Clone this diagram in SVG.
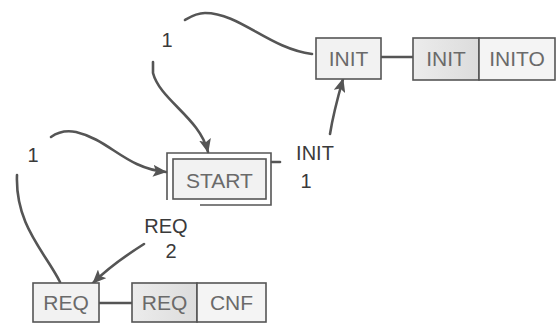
<svg xmlns="http://www.w3.org/2000/svg" width="557" height="326" viewBox="0 0 557 326">
  <style>
    .box { fill: #f2f2f2; stroke: #555; stroke-width: 1.6; }
    .evt { fill: url(#evtFill); stroke: #555; stroke-width: 1.6; }
    .alg { fill: #f4f4f4; stroke: #555; stroke-width: 1.6; }
    .name { font-family: "Liberation Sans", Arial, sans-serif; font-size: 21px; fill: #6a6a6a; text-anchor: middle; }
    .cond { font-family: "Liberation Sans", Arial, sans-serif; font-size: 20px; fill: #3a3a3a; text-anchor: middle; }
    .wire { fill: none; stroke: #555; stroke-width: 2.6; stroke-linecap: round; }
    .arc { fill: none; stroke: #555; stroke-width: 2.6; stroke-linecap: round; }
    .arrow { marker-end: url(#head); }
  </style>
  <defs>
    <linearGradient id="evtFill" x1="0" y1="0" x2="1" y2="0">
      <stop offset="0" stop-color="#ececec"/>
      <stop offset="1" stop-color="#dcdcdc"/>
    </linearGradient>
    <marker id="head" markerUnits="userSpaceOnUse" markerWidth="14" markerHeight="12" refX="13" refY="6" orient="auto">
      <path d="M0,0 L14,6 L0,12 L3,6 z" fill="#555"/>
    </marker>
  </defs>
  <rect width="557" height="326" fill="#fff"/>

  <!-- transitions -->
  <g id="connectors">
    <!-- INIT -> START, condition 1 -->
    <path class="arc" d="M312,54 C268,48 240,13 205,13 C196,13 190,17 185,20"/>
    <path class="arc arrow" d="M153,62 L153,73 C160,100 200,118 208,152"/>
    <!-- REQ -> START, condition 1 -->
    <path class="arc" d="M60,282 C45,252 15,225 17,175"/>
    <path class="arc arrow" d="M51,137 C58,132 66,130 76,132 C110,140 125,168 166,172"/>
    <!-- START -> INIT, event INIT -->
    <path class="arc" d="M272,162 L280,162"/>
    <path class="arc arrow" d="M330,134 C333,115 337,100 343,79"/>
    <!-- START -> REQ, event REQ -->
    <path class="arc arrow" d="M144,244 C125,256 108,268 93,283"/>
    <!-- state to action wires -->
    <path class="wire" d="M381,57 L413,57"/>
    <path class="wire" d="M99,303 L132,303"/>
  </g>

  <!-- transition labels -->
  <g id="labels">
    <text class="cond" x="167" y="47">1</text>
    <text class="cond" x="33" y="162">1</text>
    <text class="cond" x="315" y="160">INIT</text>
    <text class="cond" x="306" y="188">1</text>
    <text class="cond" x="166" y="233">REQ</text>
    <text class="cond" x="171" y="258">2</text>
  </g>

  <g id="state-start">
    <path d="M200,205 L271,205 L271,153 L167,153 L167,200" fill="none" stroke="#555" stroke-width="1.6"/>
    <rect class="box" x="173" y="159" width="93" height="40"/>
    <text class="name" x="219.5" y="188">START</text>
  </g>

  <g id="state-init">
    <rect class="box" x="316" y="38" width="65" height="41"/>
    <text class="name" x="348.5" y="66">INIT</text>
  </g>

  <g id="action-init">
    <rect class="evt" x="413" y="38" width="66" height="42"/>
    <rect class="alg" x="479" y="38" width="76" height="42"/>
    <text class="name" x="446" y="66">INIT</text>
    <text class="name" x="517" y="66">INITO</text>
  </g>

  <g id="state-req">
    <rect class="box" x="33" y="283" width="66" height="39"/>
    <text class="name" x="66" y="310">REQ</text>
  </g>

  <g id="action-req">
    <rect class="evt" x="132" y="283" width="65" height="39"/>
    <rect class="alg" x="197" y="283" width="69" height="39"/>
    <text class="name" x="164.5" y="310">REQ</text>
    <text class="name" x="231.5" y="310">CNF</text>
  </g>
</svg>
